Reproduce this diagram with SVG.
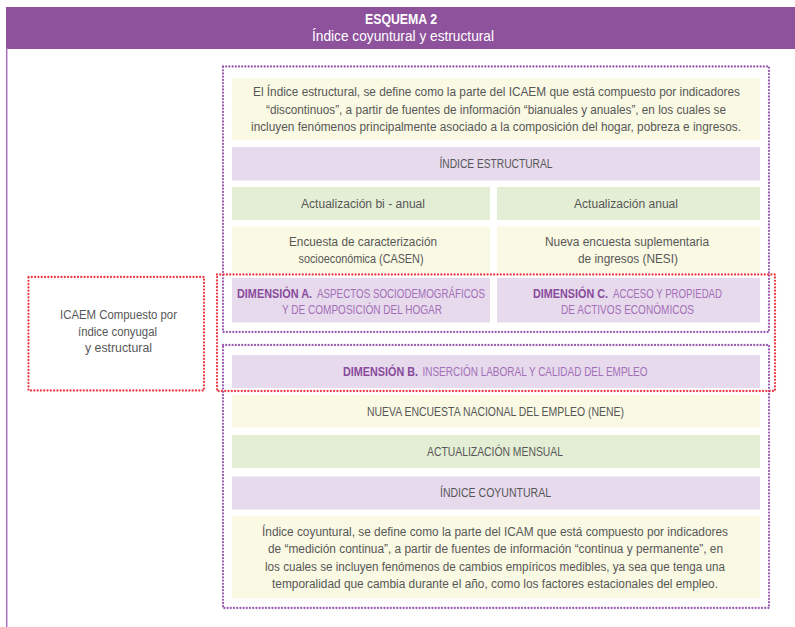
<svg xmlns="http://www.w3.org/2000/svg" width="795" height="627" viewBox="0 0 795 627">
<style>
.t{font-family:"Liberation Sans",Arial,sans-serif;font-size:12.5px;fill:#575757;text-anchor:middle}
.s{text-anchor:start}
.cap{font-size:12px}
.hd{font-family:"Liberation Sans",Arial,sans-serif;fill:#ffffff;text-anchor:middle}
.db{font-weight:bold;fill:#8A4B9C}
.dl{fill:#A46EB8}
.y{fill:#FAF9E3}
.g{fill:#E4EED5}
.p{fill:#E6DAEC}
.fp{fill:none;stroke:#9A5CB0;stroke-width:2.3;stroke-linecap:round;stroke-dasharray:0 3.2}
.fr{fill:none;stroke:#EA3A46;stroke-width:2.3;stroke-linecap:round;stroke-dasharray:0 3.3}
</style>
<rect x="0" y="0" width="795" height="627" fill="#ffffff"/>
<g id="header">
<rect x="6" y="7" width="789" height="42" fill="#8E529C"/>
<line x1="6.7" y1="48" x2="6.7" y2="627" stroke="#A870BE" stroke-width="1.5"/>
<text class="hd" x="401" y="24" font-size="14" font-weight="bold" textLength="72" lengthAdjust="spacingAndGlyphs">ESQUEMA 2</text>
<text class="hd" x="403" y="41" font-size="14" textLength="182" lengthAdjust="spacingAndGlyphs">Índice coyuntural y estructural</text>
</g>
<g id="def-estructural">
<rect class="y" x="232" y="78" width="528" height="62"/>
<text class="t" x="496.5" y="96" textLength="487" lengthAdjust="spacingAndGlyphs">El Índice estructural, se define como la parte del ICAEM que está compuesto por indicadores</text>
<text class="t" x="496" y="114" textLength="460" lengthAdjust="spacingAndGlyphs">“discontinuos”, a partir de fuentes de información “bianuales y anuales”, en los cuales se</text>
<text class="t" x="496" y="131" textLength="490" lengthAdjust="spacingAndGlyphs">incluyen fenómenos principalmente asociado a la composición del hogar, pobreza e ingresos.</text>
</g>
<g id="indice-estructural">
<rect class="p" x="232" y="147" width="528" height="33.5"/>
<text class="t cap" x="496" y="167.5" textLength="113" lengthAdjust="spacingAndGlyphs">ÍNDICE ESTRUCTURAL</text>
</g>
<g id="act-bianual">
<rect class="g" x="232" y="187" width="258" height="33"/>
<text class="t" x="363" y="207.5" textLength="124" lengthAdjust="spacingAndGlyphs">Actualización bi - anual</text>
</g>
<g id="act-anual">
<rect class="g" x="497" y="187" width="263" height="33"/>
<text class="t" x="626" y="207.5" textLength="104" lengthAdjust="spacingAndGlyphs">Actualización anual</text>
</g>
<g id="casen">
<rect class="y" x="232" y="226.5" width="258" height="46.5"/>
<text class="t" x="363" y="246" textLength="148" lengthAdjust="spacingAndGlyphs">Encuesta de caracterización</text>
<text class="t" x="361" y="263" textLength="125" lengthAdjust="spacingAndGlyphs">socioeconómica (CASEN)</text>
</g>
<g id="nesi">
<rect class="y" x="497" y="226.5" width="263" height="46.5"/>
<text class="t" x="627" y="246" textLength="164" lengthAdjust="spacingAndGlyphs">Nueva encuesta suplementaria</text>
<text class="t" x="628" y="263" textLength="100" lengthAdjust="spacingAndGlyphs">de ingresos (NESI)</text>
</g>
<g id="dim-a">
<rect class="p" x="232" y="278" width="258" height="44.5"/>
<text class="t s db" x="237" y="297.5" textLength="75" lengthAdjust="spacingAndGlyphs">DIMENSIÓN A.</text>
<text class="t s dl" x="317" y="297.5" textLength="168" lengthAdjust="spacingAndGlyphs">ASPECTOS SOCIODEMOGRÁFICOS</text>
<text class="t dl" x="362" y="314" textLength="160" lengthAdjust="spacingAndGlyphs">Y DE COMPOSICIÓN DEL HOGAR</text>
</g>
<g id="dim-c">
<rect class="p" x="497" y="278" width="263" height="44.5"/>
<text class="t s db" x="533" y="297.5" textLength="75" lengthAdjust="spacingAndGlyphs">DIMENSIÓN C.</text>
<text class="t s dl" x="613" y="297.5" textLength="109" lengthAdjust="spacingAndGlyphs">ACCESO Y PROPIEDAD</text>
<text class="t dl" x="627.5" y="314" textLength="133" lengthAdjust="spacingAndGlyphs">DE ACTIVOS ECONÓMICOS</text>
</g>
<g id="dim-b">
<rect class="p" x="232" y="355" width="528" height="33"/>
<text class="t s db" x="343" y="375.5" textLength="75" lengthAdjust="spacingAndGlyphs">DIMENSIÓN B.</text>
<text class="t s dl" x="422.5" y="375.5" textLength="225" lengthAdjust="spacingAndGlyphs">INSERCIÓN LABORAL Y CALIDAD DEL EMPLEO</text>
</g>
<g id="nene">
<rect class="y" x="232" y="395" width="528" height="32.5"/>
<text class="t cap" x="495.5" y="415.5" textLength="257" lengthAdjust="spacingAndGlyphs">NUEVA ENCUESTA NACIONAL DEL EMPLEO (NENE)</text>
</g>
<g id="act-mensual">
<rect class="g" x="232" y="435" width="528" height="33"/>
<text class="t cap" x="495" y="455.5" textLength="136" lengthAdjust="spacingAndGlyphs">ACTUALIZACIÓN MENSUAL</text>
</g>
<g id="indice-coyuntural">
<rect class="p" x="232" y="476.5" width="528" height="33"/>
<text class="t cap" x="495.5" y="497" textLength="111" lengthAdjust="spacingAndGlyphs">ÍNDICE COYUNTURAL</text>
</g>
<g id="def-coyuntural">
<rect class="y" x="232" y="516" width="528" height="82.5"/>
<text class="t" x="495" y="535.5" textLength="466" lengthAdjust="spacingAndGlyphs">Índice coyuntural, se define como la parte del ICAM que está compuesto por indicadores</text>
<text class="t" x="495.5" y="553" textLength="455" lengthAdjust="spacingAndGlyphs">de “medición continua”, a partir de fuentes de información “continua y permanente”, en</text>
<text class="t" x="495" y="570.5" textLength="460" lengthAdjust="spacingAndGlyphs">los cuales se incluyen fenómenos de cambios empíricos medibles, ya sea que tenga una</text>
<text class="t" x="495" y="587.5" textLength="446" lengthAdjust="spacingAndGlyphs">temporalidad que cambia durante el año, como los factores estacionales del empleo.</text>
</g>
<g id="frame-estructural">
<rect class="fp" x="223" y="66.5" width="546" height="265.5"/>
</g>
<g id="frame-coyuntural">
<rect class="fp" x="223" y="345" width="546" height="263"/>
</g>
<g id="frame-dimensiones">
<rect class="fr" x="217" y="274.5" width="558" height="116.5"/>
</g>
<g id="icaem">
<rect class="fr" x="28.5" y="277" width="175.5" height="113.5"/>
<text class="t" x="118.5" y="319" textLength="117" lengthAdjust="spacingAndGlyphs">ICAEM Compuesto por</text>
<text class="t" x="117.5" y="335.5" textLength="79" lengthAdjust="spacingAndGlyphs">índice conyugal</text>
<text class="t" x="118.5" y="352" textLength="67" lengthAdjust="spacingAndGlyphs">y estructural</text>
</g>
<g id="connectors"></g>
</svg>
